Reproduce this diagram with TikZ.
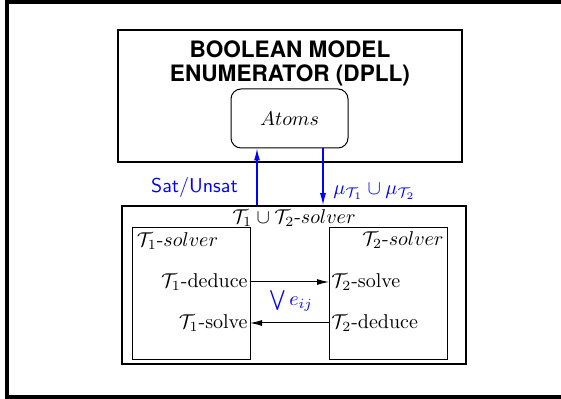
\documentclass[tikz,border=0pt]{standalone}
\usepackage{amsmath,amssymb}
\usepackage{fontspec}
\newfontfamily\titlefont{TeX Gyre Heros}
\usetikzlibrary{positioning,arrows.meta}

\begin{document}
\begin{tikzpicture}[x=0.5pt,y=-0.5pt,>={Latex[length=6pt,width=3pt]},big/.style={draw,line width=.7pt,minimum width=172pt,inner sep=0pt},solverbox/.style={draw,line width=.5pt,minimum width=59pt,minimum height=66pt,inner sep=0pt},atombox/.style={draw,rounded corners=5pt,line width=.5pt,minimum width=58.5pt,minimum height=29.5pt},lbl/.style={inner sep=1pt}]
\useasboundingbox (0,0) rectangle (561,399);
\draw[line width=2pt] (562,2) -| (7,397) -- (562,397);
\node[big,minimum height=66pt] (dpll) at (290,96) {};
\node[align=center,font=\titlefont\bfseries\fontsize{11.3}{12}\selectfont] (ttl) at (290,63) {BOOLEAN MODEL\\ENUMERATOR (DPLL)};
\node[atombox] (atoms) at (289.5,118.5) {$Atoms$};
\node[big,line width=.8pt,minimum height=79pt] (sol) at (294,285) {};
\node[solverbox] (t1) at (191,294) {};
\node[solverbox] (t2) at (388.5,294) {};
\node[below=0pt of sol.north,inner sep=2pt] (soltxt) {$\mathcal{T}_1\cup\mathcal{T}_2$-$solver$};
\node[below right=0pt and 0pt of t1.north west,inner sep=2.5pt] (n1) {$\mathcal{T}_1$-$solver$};
\node[below left=0pt and 0pt of t2.north east,inner sep=2pt] (n2) {$\mathcal{T}_2$-$solver$};
\node[lbl,anchor=east] (d1) at (250,282) {$\mathcal{T}_1$-deduce};
\node[lbl,anchor=east] (s1) at (250,323) {$\mathcal{T}_1$-solve};
\node[lbl,anchor=west] (s2) at (329,282) {$\mathcal{T}_2$-solve};
\node[lbl,anchor=west] (d2) at (329,323) {$\mathcal{T}_2$-deduce};
\node[blue] (eij) at (291,301) {$\bigvee e_{ij}$};
\coordinate (up) at (257,0);\coordinate (dn) at (323,0);
\draw[->,line width=.5pt](d1.east)--(s2.west);\draw[->,line width=.5pt](d2.west)--(s1.east);
\draw[->,blue,line width=.6pt](up |- sol.north)--node[pos=.31,left=6pt,font=\sffamily]{Sat/Unsat}(up |- atoms.south);
\draw[->,blue,line width=.6pt](dn |- atoms.south)--node[pos=.76,right=1.5pt]{$\mu_{\mathcal{T}_1}\cup\mu_{\mathcal{T}_2}$}(dn |- sol.north);
\end{tikzpicture}
\end{document}
